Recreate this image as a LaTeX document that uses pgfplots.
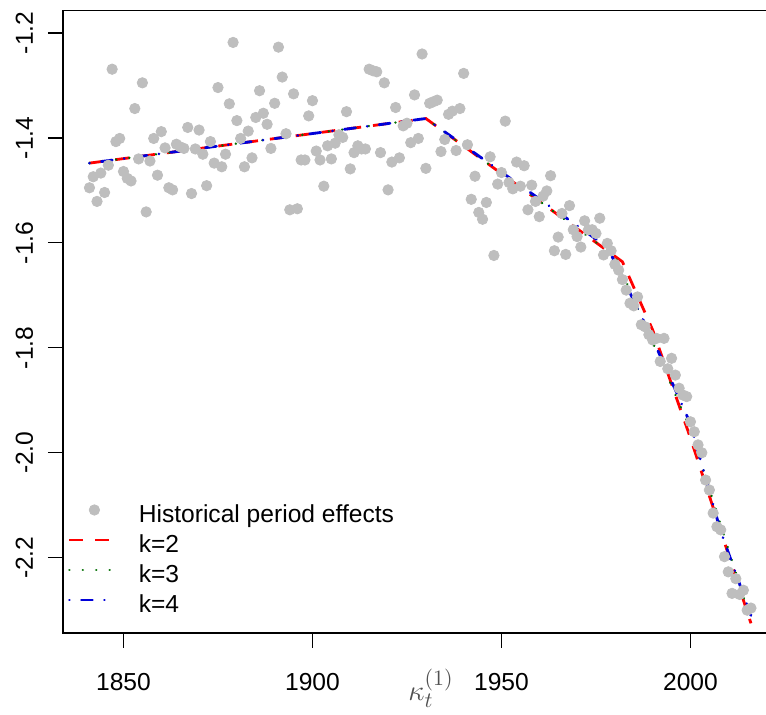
\documentclass[border=0pt]{standalone}
\usepackage{pgfplots}
\pgfplotsset{compat=1.18}
\usepackage{fontspec}
\setmainfont{Liberation Sans}
\definecolor{ptgrey}{RGB}{190,190,190}
\definecolor{dgreen}{RGB}{0,110,0}
\definecolor{kgrey}{RGB}{80,80,80}
\pgfplotsset{
  lineleg/.style={legend image code/.code={\draw[##1] (0pt,4.3pt) -- (21pt,4.3pt);}},
  dotleg/.style={legend image code/.code={\fill[ptgrey] (12.5pt,4.3pt) circle (2.6pt);}},
}
\begin{document}
\begin{tikzpicture}
\useasboundingbox (-31.5pt,-41pt) rectangle (351.5pt,316.5pt);
\begin{axis}[
  scale only axis, width=357.2pt, height=311.15pt,
  xmin=1834, xmax=2023, ymin=-2.3435, ymax=-1.1575,
  axis line style={line width=0.8pt},
  tick style={line width=0.6pt, black},
  tick align=outside, major tick length=7.5pt,
  xtick={1850,1900,1950,2000}, ytick={-2.2,-2,-1.8,-1.6,-1.4,-1.2},
  xtick pos=left, ytick pos=left,
  font=\fontsize{12.3}{14}\selectfont,
  /pgf/number format/assume math mode=true,
  xticklabel shift=9pt, yticklabel shift=7.5pt,
  xticklabel style={/pgf/number format/1000 sep={}},
  yticklabel style={rotate=90, anchor=base, /pgf/number format/.cd, fixed, fixed zerofill, precision=1},
  legend cell align=left,
  legend style={draw=none, fill=none, inner sep=0pt, outer sep=0pt,
    at={(axis description cs:0,0)}, anchor=south west, xshift=2.5pt, yshift=4.7pt,
    row sep=0pt, column sep=13pt,
    nodes={inner sep=0pt, text height=9.5pt, text depth=5.5pt, font=\fontsize{12.3}{14}\selectfont}},
]
\addplot[only marks, mark=*, mark size=2.6pt, color=ptgrey, mark options={draw=ptgrey, fill=ptgrey}, dotleg]
coordinates {
(1841,-1.495)(1842,-1.474)(1843,-1.521)(1844,-1.467)(1845,-1.504)(1846,-1.452)(1847,-1.269)(1848,-1.407)(1849,-1.401)(1850,-1.464)
(1851,-1.477)(1852,-1.482)(1853,-1.344)(1854,-1.440)(1855,-1.295)(1856,-1.541)(1857,-1.444)(1858,-1.401)(1859,-1.471)(1860,-1.388)
(1861,-1.419)(1862,-1.495)(1863,-1.499)(1864,-1.412)(1865,-1.417)(1866,-1.420)(1867,-1.380)(1868,-1.506)(1869,-1.421)(1870,-1.385)
(1871,-1.431)(1872,-1.491)(1873,-1.407)(1874,-1.448)(1875,-1.304)(1876,-1.455)(1877,-1.431)(1878,-1.335)(1879,-1.218)(1880,-1.367)
(1881,-1.401)(1882,-1.455)(1883,-1.387)(1884,-1.438)(1885,-1.361)(1886,-1.310)(1887,-1.353)(1888,-1.374)(1889,-1.420)(1890,-1.334)
(1891,-1.227)(1892,-1.284)(1893,-1.392)(1894,-1.537)(1895,-1.316)(1896,-1.535)(1897,-1.442)(1898,-1.442)(1899,-1.358)(1900,-1.329)
(1901,-1.425)(1902,-1.442)(1903,-1.492)(1904,-1.415)(1905,-1.440)(1906,-1.410)(1907,-1.394)(1908,-1.399)(1909,-1.350)(1910,-1.459)
(1911,-1.428)(1912,-1.415)(1913,-1.421)(1914,-1.421)(1915,-1.269)(1916,-1.272)(1917,-1.274)(1918,-1.428)(1919,-1.295)(1920,-1.499)
(1921,-1.446)(1922,-1.342)(1923,-1.438)(1924,-1.377)(1925,-1.372)(1926,-1.409)(1927,-1.318)(1928,-1.401)(1929,-1.240)(1930,-1.458)
(1931,-1.334)(1932,-1.331)(1933,-1.328)(1934,-1.426)(1935,-1.403)(1936,-1.355)(1937,-1.349)(1938,-1.424)(1939,-1.344)(1940,-1.277)
(1941,-1.413)(1942,-1.517)(1943,-1.473)(1944,-1.542)(1945,-1.555)(1946,-1.523)(1947,-1.436)(1948,-1.624)(1949,-1.488)(1950,-1.466)
(1951,-1.368)(1952,-1.485)(1953,-1.497)(1954,-1.446)(1955,-1.492)(1956,-1.453)(1957,-1.537)(1958,-1.490)(1959,-1.521)(1960,-1.550)
(1961,-1.511)(1962,-1.501)(1963,-1.472)(1964,-1.615)(1965,-1.589)(1966,-1.544)(1967,-1.622)(1968,-1.529)(1969,-1.575)(1970,-1.588)
(1971,-1.608)(1972,-1.558)(1973,-1.575)(1974,-1.575)(1975,-1.582)(1976,-1.553)(1977,-1.623)(1978,-1.601)(1979,-1.615)(1980,-1.641)
(1981,-1.652)(1982,-1.670)(1983,-1.690)(1984,-1.715)(1985,-1.720)(1986,-1.703)(1987,-1.756)(1988,-1.760)(1989,-1.775)(1990,-1.785)
(1991,-1.782)(1992,-1.826)(1993,-1.782)(1994,-1.840)(1995,-1.820)(1996,-1.852)(1997,-1.877)(1998,-1.890)(1999,-1.893)(2000,-1.941)
(2001,-1.960)(2002,-1.985)(2003,-2.000)(2004,-2.052)(2005,-2.071)(2006,-2.115)(2007,-2.141)(2008,-2.147)(2009,-2.198)(2010,-2.227)
(2011,-2.268)(2012,-2.240)(2013,-2.270)(2014,-2.262)(2015,-2.300)(2016,-2.296)
};
\addlegendentry{Historical period effects}
\addplot[color=red, line width=1.4pt, dash pattern=on 7pt off 6pt, lineleg]
coordinates {(1841,-1.448)(1930,-1.363)(1982,-1.636)(1990,-1.766)(2000,-1.972)(2016,-2.325)};
\addlegendentry{k=2}
\addplot[color=dgreen, line width=1.3pt, line cap=round, dash pattern=on 0.01pt off 6.7pt, lineleg]
coordinates {(1841,-1.448)(1930,-1.363)(1980,-1.625)(2000,-1.955)(2016,-2.32)};
\addlegendentry{k=3}
\addplot[color=blue!85!black, line width=1.4pt, line cap=round, dash pattern=on 0.01pt off 6pt on 5.5pt off 6pt, lineleg]
coordinates {(1841,-1.448)(1930,-1.363)(1978,-1.608)(1985,-1.71)(1992,-1.815)(2000,-1.945)(2008,-2.15)(2016,-2.31)};
\addlegendentry{k=4}
\end{axis}
\node[anchor=base, text=kgrey, font=\fontsize{15}{18}\selectfont] at (184pt,-34pt) {$\kappa_t^{(1)}$};
\end{tikzpicture}
\end{document}
